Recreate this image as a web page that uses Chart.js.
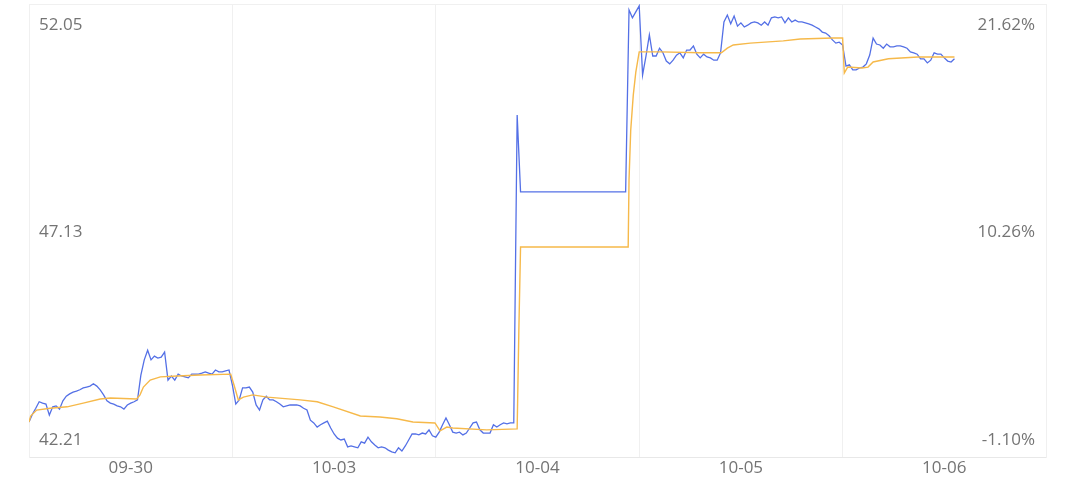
<!DOCTYPE html>
<html>
<head>
<meta charset="utf-8">
<script src="https://cdn.jsdelivr.net/npm/chart.js@4/dist/chart.umd.min.js"></script>
<style>
html,body{margin:0;padding:0;background:#ffffff;}
#wrap{width:1080px;height:500px;}
</style>
</head>
<body>
<div id="wrap"><canvas id="c" width="1080" height="500"></canvas></div>
<script>
// ---- data ----
const days = ['09-30', '10-03', '10-04', '10-05', '10-06'];
const MINUTES_PER_DAY = 240;
const SAMPLE_MINUTES = 4;

const priceTicks = [42.21, 47.13, 52.05];
const pctTicks = [-1.10, 10.26, 21.62];

const price0930 = [42.97, 43.14, 43.27, 43.41, 43.38, 43.36, 43.12, 43.30, 43.32, 43.25,
  43.43, 43.53, 43.58, 43.62, 43.64, 43.67, 43.71, 43.73, 43.75, 43.80,
  43.75, 43.67, 43.56, 43.43, 43.38, 43.36, 43.32, 43.30, 43.25, 43.34,
  43.38, 43.41, 43.45, 43.99, 44.32, 44.53, 44.32, 44.40, 44.36, 44.38,
  44.49, 43.88, 43.97, 43.88, 44.01, 43.97, 43.95, 43.93, 44.01, 44.01,
  44.01, 44.03, 44.06, 44.03, 44.01, 44.10, 44.06, 44.06, 44.08, 44.10];
const price1003 = [43.77, 43.36, 43.45, 43.71, 43.71, 43.73, 43.62, 43.34, 43.23, 43.45,
  43.53, 43.45, 43.45, 43.41, 43.36, 43.30, 43.32, 43.34, 43.34, 43.34,
  43.32, 43.27, 43.23, 43.01, 42.95, 42.86, 42.91, 42.95, 42.99, 42.84,
  42.71, 42.62, 42.58, 42.60, 42.43, 42.45, 42.43, 42.41, 42.54, 42.51,
  42.64, 42.54, 42.47, 42.41, 42.43, 42.41, 42.36, 42.32, 42.30, 42.41,
  42.34, 42.45, 42.58, 42.71, 42.71, 42.69, 42.73, 42.71, 42.80, 42.67];
const price1004 = [42.64, 42.75, 42.91, 43.06, 42.91, 42.75, 42.73, 42.75, 42.69, 42.73,
  42.84, 42.95, 42.97, 42.80, 42.73, 42.73, 42.73, 42.91, 42.86, 42.91,
  42.95, 42.93, 42.95, 42.95, 49.64, 47.97, 47.97, 47.97, 47.97, 47.97,
  47.97, 47.97, 47.97, 47.97, 47.97, 47.97, 47.97, 47.97, 47.97, 47.97,
  47.97, 47.97, 47.97, 47.97, 47.97, 47.97, 47.97, 47.97, 47.97, 47.97,
  47.97, 47.97, 47.97, 47.97, 47.97, 47.97, 47.97, 51.92, 51.75, 51.88];
const price1005 = [52.01, 50.51, 50.92, 51.38, 50.92, 50.92, 51.09, 50.99, 50.81, 50.75,
  50.83, 50.94, 50.99, 50.88, 51.05, 51.05, 51.14, 50.96, 50.88, 50.96,
  50.90, 50.88, 50.83, 50.83, 50.99, 51.66, 51.81, 51.62, 51.79, 51.57,
  51.64, 51.55, 51.59, 51.64, 51.66, 51.64, 51.59, 51.66, 51.59, 51.75,
  51.77, 51.75, 51.77, 51.64, 51.75, 51.66, 51.70, 51.66, 51.66, 51.64,
  51.62, 51.59, 51.55, 51.51, 51.44, 51.42, 51.36, 51.27, 51.20, 51.22];
const price1006 = [51.16, 50.70, 50.73, 50.62, 50.62, 50.66, 50.68, 50.75, 50.94, 51.31,
  51.18, 51.16, 51.09, 51.18, 51.12, 51.12, 51.14, 51.14, 51.12, 51.09,
  51.01, 50.99, 50.96, 50.86, 50.86, 50.77, 50.83, 50.99, 50.96, 50.96,
  50.88, 50.81, 50.79, 50.86];

// average price line, read at these minute marks (minutes from the first open)
const avgMinutes = [0, 2, 9, 25, 45, 64, 84, 96, 127, 131, 135, 143, 155, 175, 202, 238,
  242, 247, 253, 264, 281, 320, 340, 359, 391, 414, 434, 453, 479,
  485, 493, 500, 540, 576, 578, 580, 707, 708, 710, 713, 716,
  720, 745, 792, 817, 824, 831, 851, 890, 910, 949, 960,
  962, 966, 983, 990, 996, 1014, 1049, 1092];
const avgPrices = [42.97, 43.10, 43.23, 43.27, 43.30, 43.38, 43.47, 43.49, 43.47, 43.56, 43.73, 43.88, 43.95, 43.97, 43.99, 44.01,
  43.77, 43.45, 43.51, 43.56, 43.51, 43.45, 43.41, 43.30, 43.10, 43.08, 43.04, 42.97, 42.95,
  42.78, 42.86, 42.84, 42.80, 42.82, 44.97, 46.77, 46.77, 48.23, 49.31, 50.07, 50.57,
  51.01, 51.01, 50.99, 50.99, 51.09, 51.16, 51.20, 51.25, 51.29, 51.31, 51.31,
  50.55, 50.68, 50.66, 50.68, 50.79, 50.86, 50.90, 50.90];

// ---- build ----
const dayPrices = [price0930, price1003, price1004, price1005, price1006];
const pricePoints = [];
dayPrices.forEach((arr, d) => arr.forEach((p, j) => pricePoints.push({x: d * MINUTES_PER_DAY + j * SAMPLE_MINUTES, y: p})));
const avgPoints = avgMinutes.map((m, k) => ({x: m, y: avgPrices[k]}));

const TOTAL = days.length * MINUTES_PER_DAY;
const BLUE = '#5470e6';
const ORANGE = '#f6b94a';
const GRID = '#f0f0f0';
const TXT = '#747474';
const FAM = '"Open Sans", "Noto Sans", "DejaVu Sans", sans-serif';

const fixSize = (w, h) => s => {
  if (w !== null) s.width = w;
  if (h !== null) s.height = h;
  s.paddingTop = 0; s.paddingBottom = 0; s.paddingLeft = 0; s.paddingRight = 0;
};
const edgeLabel = (text, i, n) => i === 0 ? [text, '', ''] : (i === n - 1 ? ['', '', text] : text);

new Chart(document.getElementById('c'), {
  type: 'line',
  data: {
    datasets: [
      {label: '均价', data: avgPoints, borderColor: ORANGE, borderWidth: 1.4, pointRadius: 0, tension: 0, xAxisID: 'x', yAxisID: 'y'},
      {label: '价格', data: pricePoints, borderColor: BLUE, borderWidth: 1.3, pointRadius: 0, tension: 0, xAxisID: 'x', yAxisID: 'y'}
    ]
  },
  options: {
    responsive: false,
    animation: false,
    devicePixelRatio: 1,
    events: [],
    layout: {padding: 0},
    plugins: {legend: {display: false}, tooltip: {enabled: false}},
    scales: {
      x: {
        type: 'linear', position: 'bottom', min: 0, max: TOTAL,
        afterBuildTicks: s => { s.ticks = days.map((d, k) => ({value: k * MINUTES_PER_DAY + MINUTES_PER_DAY / 2})); },
        ticks: {color: TXT, font: {family: FAM, size: 17}, padding: -7, maxRotation: 0, autoSkip: false,
          callback: (v, i) => days[i]},
        grid: {display: false},
        border: {display: true, color: '#e8e8e8'},
        afterFit: fixSize(null, 43)
      },
      xg: {
        type: 'linear', position: 'top', min: 0, max: TOTAL,
        afterBuildTicks: s => { s.ticks = days.map((d, k) => ({value: k * MINUTES_PER_DAY})).concat([{value: TOTAL}]); },
        ticks: {display: false},
        grid: {color: GRID, drawTicks: false},
        border: {display: true, color: GRID},
        afterFit: fixSize(null, 4)
      },
      y: {
        position: 'left', min: priceTicks[0], max: priceTicks[priceTicks.length - 1],
        afterBuildTicks: s => { s.ticks = priceTicks.map(v => ({value: v})); },
        ticks: {mirror: true, padding: 10, labelOffset: 2, color: TXT, font: {family: FAM, size: 17, lineHeight: '19px'},
          callback: (v, i, t) => edgeLabel(Number(v).toFixed(2), i, t.length)},
        grid: {display: false},
        border: {display: true, color: GRID},
        afterFit: fixSize(29, null)
      },
      y2: {
        position: 'right', min: pctTicks[0], max: pctTicks[pctTicks.length - 1],
        afterBuildTicks: s => { s.ticks = pctTicks.map(v => ({value: v})); },
        ticks: {mirror: true, padding: -11, labelOffset: 2, color: TXT, font: {family: FAM, size: 17, lineHeight: '19px'},
          callback: (v, i, t) => edgeLabel(Number(v).toFixed(2) + '%', i, t.length)},
        grid: {display: false},
        border: {display: true, color: GRID},
        afterFit: fixSize(34, null)
      }
    }
  }
});
</script>
</body>
</html>
